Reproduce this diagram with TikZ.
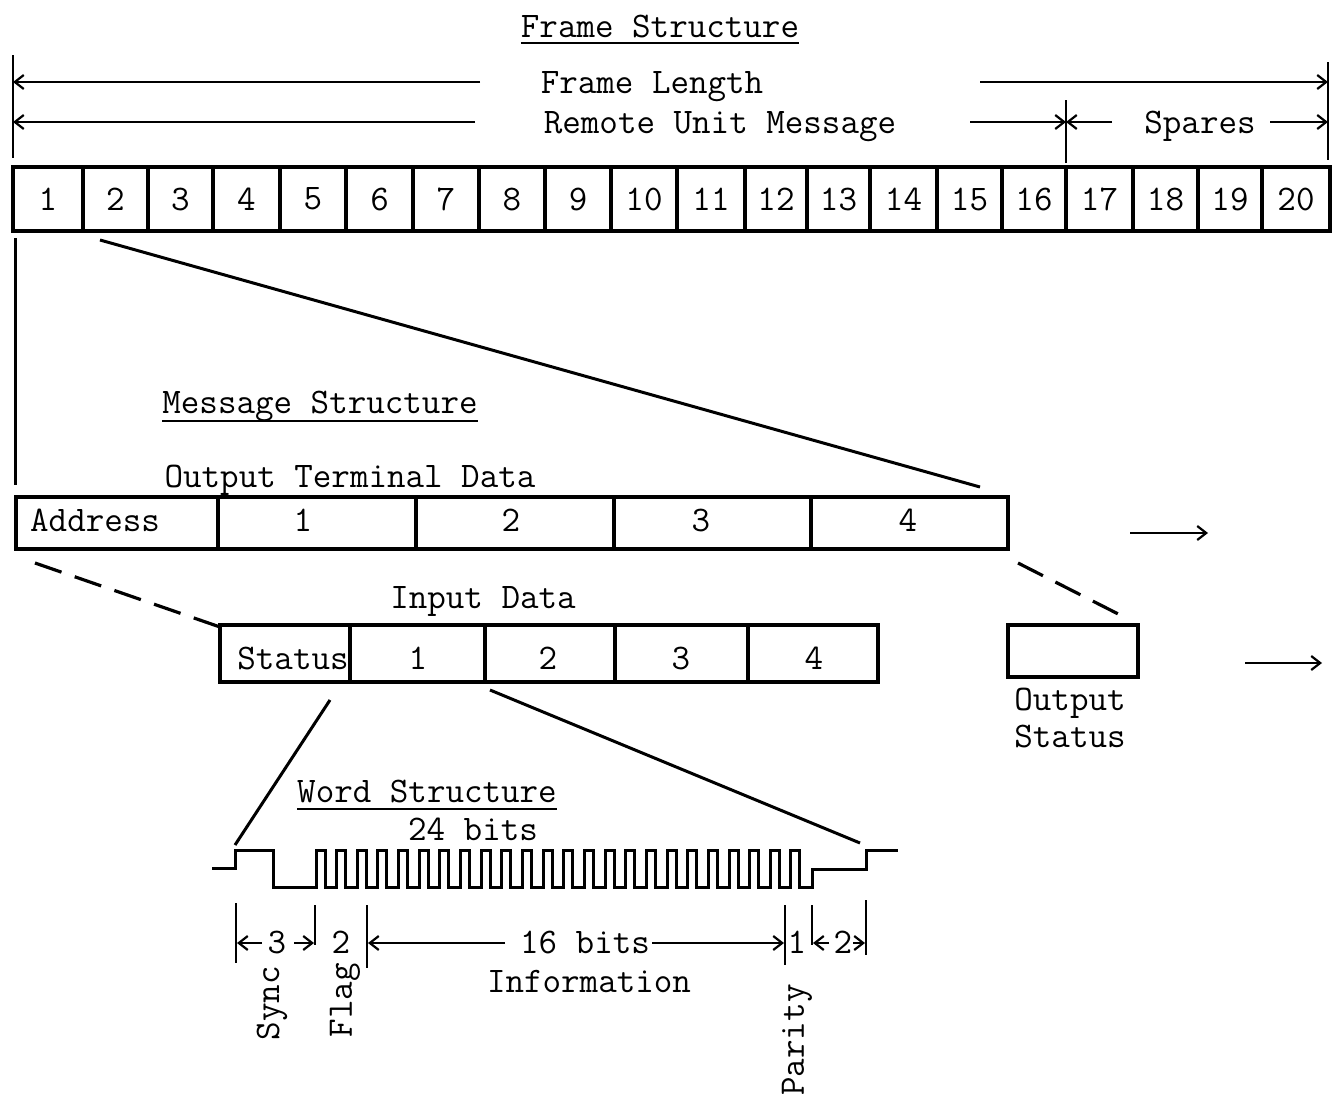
\documentclass[tikz,border=0pt]{standalone}
\usetikzlibrary{arrows.meta}
\begin{document}
\begin{tikzpicture}[x=1pt,y=-1pt,
  txt/.style={font=\fontsize{36}{40}\selectfont\ttfamily, inner sep=0pt},
  cell/.style={draw, line width=3.4pt, inner sep=0pt},
  thinline/.style={line width=2pt},
  conn/.style={line width=3pt},
  longdash/.style={line width=3.2pt, dash pattern=on 28pt off 14pt},
  arr/.style={line width=2.2pt, -{Straight Barb[length=9pt,width=14pt,line width=2.2pt]}},
  ulined/.style={line width=2.4pt}
]
\useasboundingbox (0,0) rectangle (1334,1103);

% ---------- Frame structure ----------
\node[txt, anchor=base] (ftitle) at (660,37) {Frame Structure};
\draw[ulined] ([yshift=-6pt]ftitle.base west) -- ([yshift=-6pt]ftitle.base east);

\coordinate (vlTop) at (13,55);   \coordinate (vlBot) at (13,158);
\coordinate (vrTop) at (1328,62); \coordinate (vrBot) at (1328,160);
\coordinate (vmTop) at (1066,100); \coordinate (vmBot) at (1066,163);
\draw[thinline] (vlTop) -- (vlBot);
\draw[thinline] (vrTop) -- (vrBot);
\draw[thinline] (vmTop) -- (vmBot);

\node[txt, anchor=base] (flen) at (652,93) {Frame Length};
\node[txt, anchor=base] (rum) at (720,133) {Remote Unit Message};
\node[txt, anchor=base] (spares) at (1200,133) {Spares};

\coordinate (a1s) at (480,82);  \coordinate (a1e) at (13,82);
\coordinate (a2s) at (980,82);  \coordinate (a2e) at (1328,82);
\coordinate (b1s) at (475,122); \coordinate (b1e) at (13,122);
\coordinate (b2s) at (970,122); \coordinate (b2e) at (1066,122);
\coordinate (b3s) at (1112,122); \coordinate (b3e) at (1066,122);
\coordinate (b4s) at (1270,122); \coordinate (b4e) at (1328,122);
\draw[arr] (a1s) -- (a1e);
\draw[arr] (a2s) -- (a2e);
\draw[arr] (b1s) -- (b1e);
\draw[arr] (b2s) -- (b2e);
\draw[arr] (b3s) -- (b3e);
\draw[arr] (b4s) -- (b4e);

\foreach \a/\b [count=\i] in {13/83,83/148,148/213,213/280,280/346,346/413,413/479,479/545,545/611,611/677,677/745,745/807,807/870,870/937,937/1002,1002/1066,1066/1133,1133/1198,1198/1262,1262/1330}
  \node[cell, txt, minimum width={(\b-\a)*1pt}, minimum height=64pt] (f\i) at ({(\a+\b)/2},199) {\i};

% ---------- Message structure ----------
\coordinate (dL1) at (15,238);  \coordinate (dL2) at (15,485);
\coordinate (dA1) at (100,240); \coordinate (dA2) at (980,487);
\draw[conn] (dL1) -- (dL2);
\draw[conn] (dA1) -- (dA2);

\node[txt, anchor=base] (mtitle) at (320,413) {Message Structure};
\draw[ulined] ([yshift=-8pt]mtitle.base west) -- ([yshift=-8pt]mtitle.base east);

\node[txt, anchor=base] (otd) at (350,487) {Output Terminal Data};

\foreach \a/\b/\n in {16/218/ma,218/416/m1,416/614/m2,614/811/m3,811/1008/m4}
  \node[cell, minimum width={(\b-\a)*1pt}, minimum height=52pt] (\n) at ({(\a+\b)/2},523) {};
\node[txt, anchor=base west] (addr) at (30,531) {Address};
\node[txt, anchor=base] (ml1) at (303,531) {1};
\node[txt, anchor=base] (ml2) at (511,531) {2};
\node[txt, anchor=base] (ml3) at (701,531) {3};
\node[txt, anchor=base] (ml4) at (908,531) {4};

\coordinate (ar1s) at (1130,533); \coordinate (ar1e) at (1208,533);
\draw[arr] (ar1s) -- (ar1e);

\coordinate (ds1) at (35,563);   \coordinate (de1) at (220,627);
\coordinate (ds2) at (1018,563); \coordinate (de2) at (1130,620);
\draw[longdash] (ds1) -- (de1);
\draw[longdash] (ds2) -- (de2);

\node[txt, anchor=base] (idata) at (483,608) {Input Data};

\foreach \a/\b/\n in {220/350/is,350/485/i1,485/615/i2,615/748/i3,748/878/i4}
  \node[cell, minimum width={(\b-\a)*1pt}, minimum height=57pt] (\n) at ({(\a+\b)/2},653.5) {};
\node[txt, anchor=base] (stat) at (293,669) {Status};
\node[txt, anchor=base] (il1) at (418,669) {1};
\node[txt, anchor=base] (il2) at (548,669) {2};
\node[txt, anchor=base] (il3) at (681,669) {3};
\node[txt, anchor=base] (il4) at (814,669) {4};

\node[cell, minimum width=130pt, minimum height=52pt] (ostat) at (1073,651) {};
\node[txt, anchor=base] (oslab1) at (1070,710) {Output};
\node[txt, anchor=base] (oslab2) at (1070,747) {Status};

\coordinate (ar2s) at (1245,663); \coordinate (ar2e) at (1322,663);
\draw[arr] (ar2s) -- (ar2e);

% ---------- Word structure ----------
\coordinate (w1s) at (330,700); \coordinate (w1e) at (235,845);
\coordinate (w2s) at (490,690); \coordinate (w2e) at (860,843);
\draw[conn] (w1s) -- (w1e);
\draw[conn] (w2s) -- (w2e);

\node[txt, anchor=base] (wtitle) at (427,802) {Word Structure};
\draw[ulined] ([yshift=-7pt]wtitle.base west) -- ([yshift=-7pt]wtitle.base east);
\node[txt, anchor=base] (bits24) at (473,840) {24 bits};

\draw[line width=3pt, line join=miter]
  (212,868) -- (235,868) -- (235,850) -- (273,850) -- (273,887) -- (316,887)
  \foreach \i in {0,...,23} {
    -- ({316+\i*20.65},887) -- ({316+\i*20.65},850) -- ({325+\i*20.65},850) -- ({325+\i*20.65},887)
  }
  -- (812,887) -- (812,869) -- (866,869) -- (866,850) -- (898,850);

% dimension ticks
\foreach \x/\t/\b/\n in {236/903/963/t1,315/905/945/t2,367/905/968/t3,785/905/965/t4,812/905/945/t5,866/900/955/t6}
  \coordinate (\n a) at (\x,\t);
\foreach \x/\t/\b/\n in {236/903/963/t1,315/905/945/t2,367/905/968/t3,785/905/965/t4,812/905/945/t5,866/900/955/t6}
  \coordinate (\n b) at (\x,\b);
\foreach \n in {t1,t2,t3,t4,t5,t6}
  \draw[line width=2.6pt] (\n a) -- (\n b);

\node[txt, anchor=base] (d3) at (277,953) {3};
\node[txt, anchor=base] (d2) at (341,953) {2};
\node[txt, anchor=base] (d16) at (585,953) {16 bits};
\node[txt, anchor=base] (d1) at (797,953) {1};
\node[txt, anchor=base] (d2b) at (843,953) {2};

\coordinate (c1s) at (262,943); \coordinate (c1e) at (237,943);
\coordinate (c2s) at (294,943); \coordinate (c2e) at (314,943);
\coordinate (c3s) at (505,943); \coordinate (c3e) at (368,943);
\coordinate (c4s) at (652,943); \coordinate (c4e) at (784,943);
\coordinate (c5s) at (829,943); \coordinate (c5e) at (813,943);
\coordinate (c6s) at (853,943); \coordinate (c6e) at (865,943);
\foreach \n in {c1,c2,c3,c4,c5,c6}
  \draw[arr] (\n s) -- (\n e);

\node[txt, anchor=base] (info) at (589,992) {Information};
\node[txt, rotate=90] (sync) at (272,1003) {Sync};
\node[txt, rotate=90] (flag) at (345,1000) {Flag};
\node[txt, rotate=90] (parity) at (797,1040) {Parity};
\end{tikzpicture}
\end{document}
